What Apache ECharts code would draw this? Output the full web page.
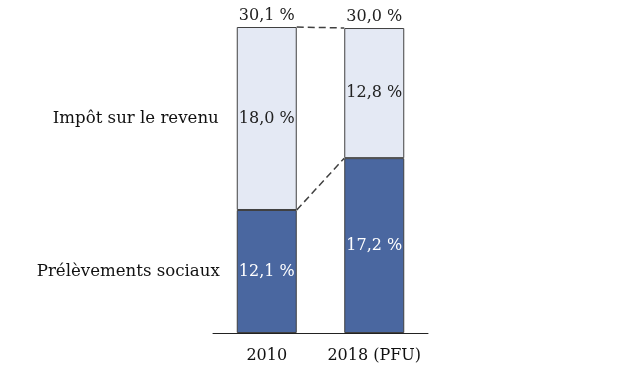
<!DOCTYPE html>
<html><head><meta charset="utf-8">
<script src="https://cdn.jsdelivr.net/npm/echarts@6/dist/echarts.min.js"></script>
<style>html,body{margin:0;padding:0;background:#fff}#c{width:641px;height:370px}</style>
</head><body><div id="c"></div>
<script>
const categories = ['2010', '2018 (PFU)'];
const socialValues = [12.1, 17.2];
const incomeTaxValues = [18.0, 12.8];
const totalValues = [30.1, 30.0];
const seriesNames = ['Prélèvements sociaux', 'Impôt sur le revenu'];

const FONT = 'DejaVu Serif';
const fmt = v => v.toFixed(1).replace('.', ',') + ' %';

const chart = echarts.init(document.getElementById('c'), null, {renderer: 'canvas'});

chart.setOption({
  animation: false,
  grid: {left: 213, right: 213, top: 27, bottom: 37},
  xAxis: {
    type: 'category', data: categories,
    axisLine: {lineStyle: {color: '#222', width: 1}},
    axisTick: {show: false},
    axisLabel: {interval: 0, color: '#111', fontFamily: FONT, fontSize: 16, margin: 15}
  },
  yAxis: {type: 'value', min: 0, max: 30.1, show: false, splitLine: {show: false}},
  series: [
    {
      name: seriesNames[0], type: 'bar', stack: 's', barWidth: 60,
      data: socialValues,
      itemStyle: {color: '#4A67A0', borderColor: '#404040', borderWidth: 1},
      label: {show: true, position: 'inside', color: '#fff', fontFamily: FONT, fontSize: 16, formatter: p => fmt(p.value)}
    },
    {
      name: seriesNames[1], type: 'bar', stack: 's', barWidth: 60,
      data: incomeTaxValues,
      itemStyle: {color: '#E4E9F4', borderColor: '#404040', borderWidth: 1},
      label: {show: true, position: 'inside', color: '#222', fontFamily: FONT, fontSize: 16, formatter: p => fmt(p.value)}
    },
    {
      name: 'Total', type: 'bar', stack: 's', barWidth: 60,
      data: totalValues.map(() => 0),
      itemStyle: {color: 'transparent'},
      label: {show: true, position: 'top', distance: 3, color: '#222', fontFamily: FONT, fontSize: 16,
        formatter: p => fmt(totalValues[p.dataIndex])}
    }
  ]
});

const half = 30;
const px = (i, v) => chart.convertToPixel({gridIndex: 0}, [i, v]);
const g = [];
const lineStyle = {stroke: '#404040', lineWidth: 1.5, lineDash: [7, 4]};
const topA = px(0, totalValues[0]), topB = px(1, totalValues[1]);
g.push({type: 'line', shape: {x1: topA[0] + half, y1: topA[1], x2: topB[0] - half, y2: topB[1]}, style: lineStyle});
const midA = px(0, socialValues[0]), midB = px(1, socialValues[1]);
g.push({type: 'line', shape: {x1: midA[0] + half, y1: midA[1], x2: midB[0] - half, y2: midB[1]}, style: lineStyle});
const lblIncome = px(0, socialValues[0] + incomeTaxValues[0] / 2);
const lblSocial = px(0, socialValues[0] / 2);
g.push({type: 'text', x: lblIncome[0] - half - 18, y: lblIncome[1], style: {text: seriesNames[1], fill: '#111', font: '16.6px "' + FONT + '"', align: 'right', verticalAlign: 'middle'}});
g.push({type: 'text', x: lblSocial[0] - half - 17, y: lblSocial[1], style: {text: seriesNames[0], fill: '#111', font: '16.6px "' + FONT + '"', align: 'right', verticalAlign: 'middle'}});
chart.setOption({graphic: g});
</script></body></html>
